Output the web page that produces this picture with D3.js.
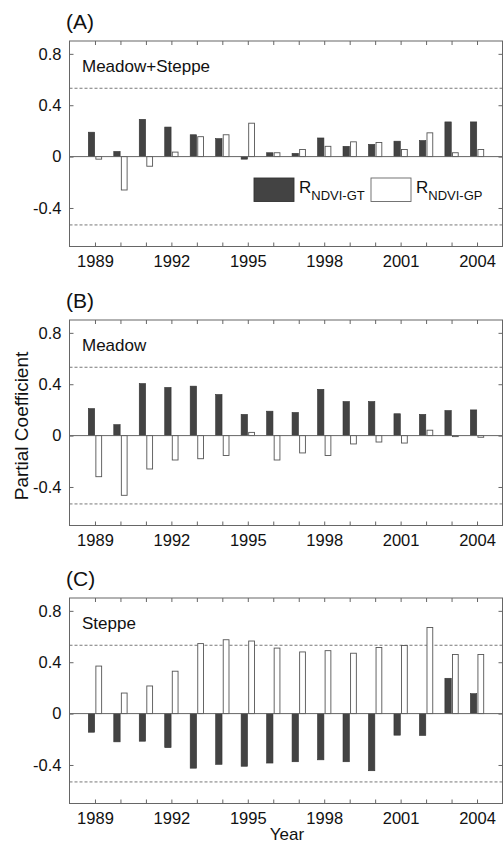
<!DOCTYPE html>
<html>
<head>
<meta charset="utf-8">
<script src="https://cdn.jsdelivr.net/npm/d3@7.9.0/dist/d3.min.js"></script>
<style>
  body { margin: 0; background: #fff; }
  svg { display: block; font-family: "Liberation Sans", Arial, sans-serif; }
</style>
</head>
<body>
<svg id="chart" width="503" height="845"></svg>
<script>
// data
const years = d3.range(1989, 2005);
const xTickYears = [1989, 1992, 1995, 1998, 2001, 2004];
const yTicks = [0.8, 0.4, 0, -0.4];
const yTickLabels = ['0.8', '0.4', '0', '-0.4'];
const critical = 0.532;

const gtA = [0.19, 0.04, 0.29, 0.23, 0.17, 0.14, -0.02, 0.03, 0.025, 0.145, 0.08, 0.095, 0.12, 0.125, 0.27, 0.27];
const gpA = [-0.02, -0.26, -0.075, 0.035, 0.155, 0.17, 0.26, 0.03, 0.055, 0.08, 0.115, 0.11, 0.055, 0.185, 0.03, 0.055];

const gtB = [0.21, 0.085, 0.405, 0.375, 0.385, 0.32, 0.165, 0.19, 0.18, 0.36, 0.265, 0.265, 0.17, 0.165, 0.195, 0.2];
const gpB = [-0.32, -0.465, -0.26, -0.19, -0.18, -0.155, 0.025, -0.19, -0.135, -0.155, -0.065, -0.05, -0.058, 0.042, -0.008, -0.013];

const gtC = [-0.145, -0.22, -0.215, -0.265, -0.425, -0.395, -0.41, -0.385, -0.375, -0.36, -0.375, -0.445, -0.168, -0.17, 0.275, 0.155];
const gpC = [0.37, 0.16, 0.215, 0.33, 0.545, 0.575, 0.565, 0.51, 0.48, 0.49, 0.47, 0.515, 0.53, 0.67, 0.46, 0.46];

const panels = [
  { tag: '(A)', name: 'Meadow+Steppe', gt: gtA, gp: gpA, top: 41, legend: true },
  { tag: '(B)', name: 'Meadow', gt: gtB, gp: gpB, top: 320, legend: false },
  { tag: '(C)', name: 'Steppe', gt: gtC, gp: gpC, top: 598, legend: false }
];

const svg = d3.select('#chart');
const left = 69.5, right = 502.5, panelH = 205.5;
const axisCol = '#666';
const darkFill = '#434343';

const x = d3.scaleLinear().domain([1988, 2005]).range([left, right]);
const barW = x(1988.25) - x(1988);

function drawPanel(p) {
  const y = d3.scaleLinear().domain([-0.7, 0.9]).range([p.top + panelH, p.top]);
  const g = svg.append('g');

  // dashed significance lines
  [critical, -critical].forEach(v => {
    g.append('line')
      .attr('x1', left).attr('x2', right)
      .attr('y1', y(v)).attr('y2', y(v))
      .attr('stroke', '#555').attr('stroke-width', 0.8)
      .attr('stroke-dasharray', '3,2');
  });

  // bars
  g.selectAll('.gt')
    .data(years.map((yr, i) => ({ yr, v: p.gt[i] })))
    .join('rect')
    .attr('x', d => x(d.yr) - barW - 0.3)
    .attr('width', barW)
    .attr('y', d => y(Math.max(0, d.v)))
    .attr('height', d => Math.abs(y(d.v) - y(0)))
    .attr('fill', darkFill)
    .attr('stroke', '#333').attr('stroke-width', 0.6);

  g.selectAll('.gp')
    .data(years.map((yr, i) => ({ yr, v: p.gp[i] })))
    .join('rect')
    .attr('x', d => x(d.yr) + 0.9)
    .attr('width', barW - 0.6)
    .attr('y', d => y(Math.max(0, d.v)))
    .attr('height', d => Math.abs(y(d.v) - y(0)))
    .attr('fill', '#fff')
    .attr('stroke', '#555').attr('stroke-width', 0.9);

  // zero line
  g.append('line')
    .attr('x1', left).attr('x2', right)
    .attr('y1', y(0)).attr('y2', y(0))
    .attr('stroke', axisCol).attr('stroke-width', 1);

  // axes with inward ticks
  const bottomAxis = d3.axisBottom(x).tickValues(years).tickSize(-4)
    .tickFormat(d => xTickYears.includes(d) ? d : '').tickPadding(9);
  g.append('g')
    .attr('transform', `translate(0,${p.top + panelH})`)
    .call(bottomAxis);
  g.append('g')
    .attr('transform', `translate(0,${p.top})`)
    .call(d3.axisTop(x).tickValues(years).tickSize(-4).tickFormat(''));
  g.append('g')
    .attr('transform', `translate(${left},0)`)
    .call(d3.axisLeft(y).tickValues(yTicks).tickSize(-4).tickPadding(8)
      .tickFormat((d, i) => yTickLabels[i]));
  g.append('g')
    .attr('transform', `translate(${right},0)`)
    .call(d3.axisRight(y).tickValues(yTicks).tickSize(-4).tickFormat(''));

  g.selectAll('.domain').remove();
  g.selectAll('.tick line').attr('stroke', axisCol);
  g.selectAll('.tick text')
    .attr('font-size', 16.5)
    .attr('fill', '#111')
    .attr('font-family', '"Liberation Sans", Arial, sans-serif');

  // frame
  g.append('rect')
    .attr('x', left).attr('y', p.top)
    .attr('width', right - left).attr('height', panelH)
    .attr('fill', 'none')
    .attr('stroke', axisCol).attr('stroke-width', 1);

  g.append('text')
    .attr('x', 66).attr('y', p.top - 12)
    .attr('font-size', 21).attr('fill', '#111')
    .text(p.tag);

  g.append('text')
    .attr('x', 82).attr('y', p.top + 31)
    .attr('font-size', 17).attr('fill', '#111')
    .text(p.name);

  if (p.legend) {
    const ly = p.top + 137;
    const items = [
      { fill: darkFill, stroke: '#333', sx: 254, tx: 299, sub: 'NDVI-GT' },
      { fill: '#fff', stroke: '#666', sx: 371, tx: 416, sub: 'NDVI-GP' }
    ];
    items.forEach(it => {
      g.append('rect')
        .attr('x', it.sx).attr('y', ly)
        .attr('width', 40).attr('height', 23.5)
        .attr('fill', it.fill).attr('stroke', it.stroke).attr('stroke-width', 0.9);
      const t = g.append('text')
        .attr('x', it.tx).attr('y', ly + 15)
        .attr('font-size', 17).attr('fill', '#111');
      t.append('tspan').text('R');
      t.append('tspan').attr('dy', 7).attr('font-size', 13).text(it.sub);
    });
  }
}

panels.forEach(drawPanel);

svg.append('text')
  .attr('transform', 'translate(28,426) rotate(-90)')
  .attr('text-anchor', 'middle')
  .attr('font-size', 19).attr('fill', '#111')
  .text('Partial Coefficient');

svg.append('text')
  .attr('x', 287).attr('y', 840)
  .attr('text-anchor', 'middle')
  .attr('font-size', 17).attr('fill', '#111')
  .text('Year');
</script>
</body>
</html>
